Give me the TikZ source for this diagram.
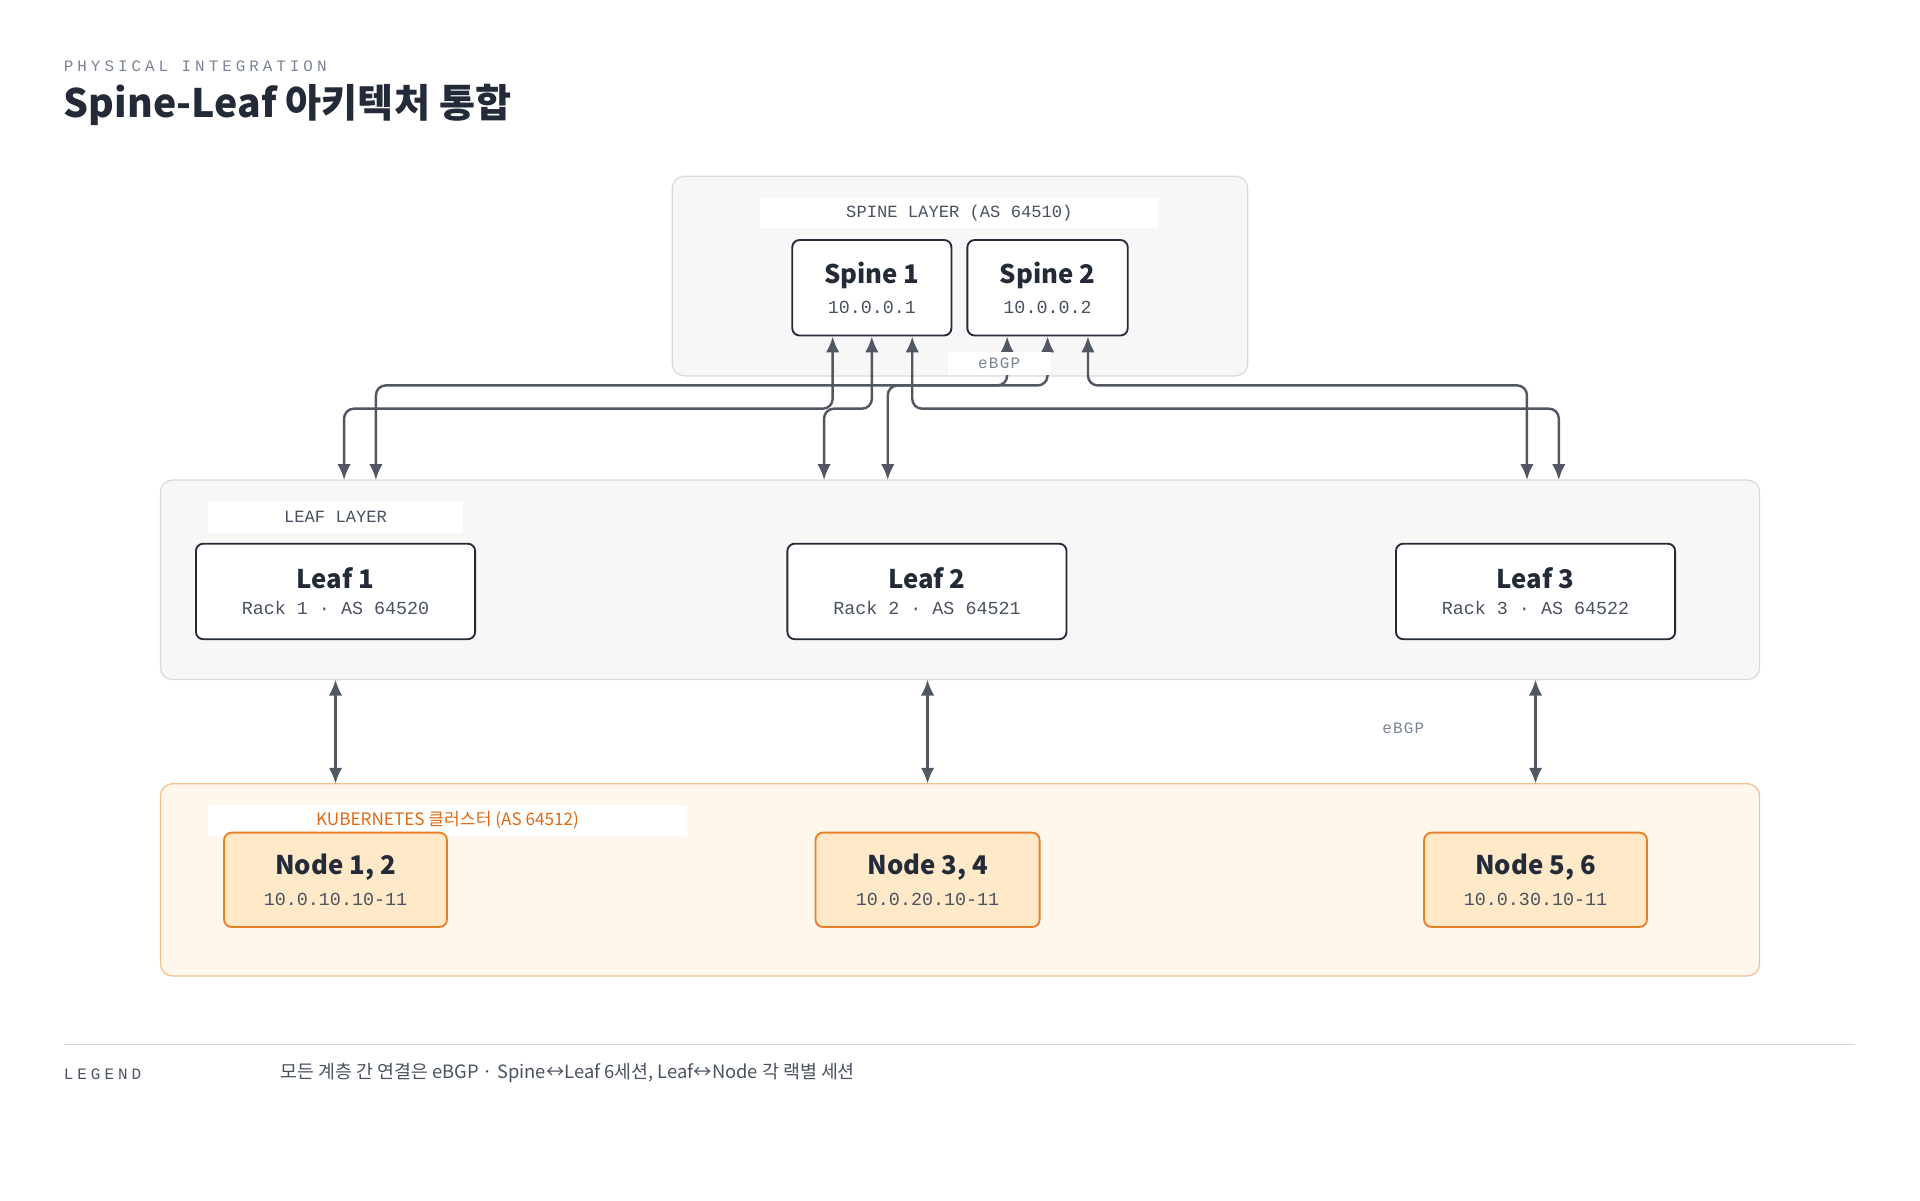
\documentclass[tikz,border=0pt]{standalone}
\usepackage{fontspec}
\setmainfont{Noto Sans CJK KR}
\newfontfamily\monofont{Liberation Mono}
\usetikzlibrary{positioning, arrows.meta}
\definecolor{ink}{HTML}{232B38}
\definecolor{wire}{HTML}{525863}
\definecolor{muted}{HTML}{7A8494}
\definecolor{subText}{HTML}{4A5260}
\definecolor{layerFill}{HTML}{F7F7F7}
\definecolor{layerLine}{HTML}{D9D9D9}
\definecolor{kubeLine}{HTML}{F2C08E}
\definecolor{kubeFill}{HTML}{FFF7EC}
\definecolor{nodeFill}{HTML}{FFE9C8}
\definecolor{nodeLine}{HTML}{E8802A}
\definecolor{kubeText}{HTML}{E06A12}
\tikzset{
  layer/.style={draw=layerLine, fill=layerFill, rounded corners=10pt, line width=1pt},
  tag/.style={fill=white, font=\monofont\fontsize{14}{16}\selectfont, text=subText},
  box/.style={draw=ink, fill=white, text=ink, rounded corners=6pt, line width=1.5pt, align=center,
    inner sep=0pt},
  kbox/.style={box, draw=nodeLine, fill=nodeFill},
  link/.style={draw=wire, line width=2pt, rounded corners=8pt, {Latex[length=13pt,width=11pt]}-{Latex[length=13pt,width=11pt]}},
}
\newcommand{\boxtext}[2]{{\fontsize{21}{25}\selectfont\bfseries #1}\\[9pt]{\monofont\fontsize{15}{17}\selectfont\color{subText} #2}}
\newcommand{\spaced}[1]{\addfontfeatures{LetterSpace=25}#1}
\newcommand{\loose}[1]{\addfontfeatures{LetterSpace=8}#1}
\begin{document}
\begin{tikzpicture}[x=1pt,y=-1pt]
  \useasboundingbox (0,0) rectangle (1568,980);
  % title
  \node[anchor=west, text=muted, font=\monofont\fontsize{13}{15}\selectfont, inner sep=0pt] (kicker) at (52,54) {\spaced{PHYSICAL INTEGRATION}};
  \node[anchor=west, text=ink, font=\fontsize{32}{38}\selectfont\bfseries, inner sep=0pt] (title) at (52,86) {Spine-Leaf 아키텍처 통합};

  % layers
  \draw[layer] (549,144) rectangle (1019,307);
  \draw[layer] (131,392) rectangle (1437,555);
  \draw[draw=kubeLine, fill=kubeFill, rounded corners=10pt, line width=1pt] (131,640) rectangle (1437,797);
  \node[tag, minimum width=325pt, minimum height=25pt] (spineTag) at (783.5,174) {SPINE LAYER (AS 64510)};
  \node[tag, minimum width=208pt, minimum height=26pt] (leafTag) at (274,422) {LEAF LAYER};
  \node[fill=white, minimum width=391pt, minimum height=26pt, text=kubeText,
    font=\fontsize{14}{16}\selectfont] (kubeTag) at (365.5,670) {KUBERNETES 클러스터 (AS 64512)};

  % spines
  \node[box, minimum width=130pt, minimum height=78pt] (s1) at (712,235) {\boxtext{Spine 1}{10.0.0.1}};
  \node[box, minimum width=131pt, minimum height=78pt] (s2) at (855.5,235) {\boxtext{Spine 2}{10.0.0.2}};

  % leaves
  \node[box, minimum width=228pt, minimum height=78pt] (l1) at (274,483) {\boxtext{Leaf 1}{Rack 1 · AS 64520}};
  \node[box, minimum width=228pt, minimum height=78pt] (l2) at (757,483) {\boxtext{Leaf 2}{Rack 2 · AS 64521}};
  \node[box, minimum width=228pt, minimum height=78pt] (l3) at (1254,483) {\boxtext{Leaf 3}{Rack 3 · AS 64522}};

  % k8s nodes
  \node[kbox, minimum width=182pt, minimum height=77pt] (n1) at (274,718.5) {\boxtext{Node 1, 2}{10.0.10.10-11}};
  \node[kbox, minimum width=183pt, minimum height=77pt] (n2) at (757.5,718.5) {\boxtext{Node 3, 4}{10.0.20.10-11}};
  \node[kbox, minimum width=182pt, minimum height=77pt] (n3) at (1254,718.5) {\boxtext{Node 5, 6}{10.0.30.10-11}};

  % drop points on the leaf layer
  \coordinate (l1a) at (281,392);
  \coordinate (l1b) at (307,392);
  \coordinate (l2a) at (673,392);
  \coordinate (l2b) at (725,392);
  \coordinate (l3a) at (1247,392);
  \coordinate (l3b) at (1273,392);

  % spine <-> leaf
  \draw[link] ([xshift=-32pt]s1.south) -- ++(0,59) -| (l1a);
  \draw[link] (s1.south) -- ++(0,59) -| (l2a);
  \draw[link] ([xshift=33pt]s1.south) -- ++(0,59) -| (l3b);
  \draw[link] ([xshift=-33pt]s2.south) -- ++(0,40) -| (l1b);
  \draw[link] (s2.south) -- ++(0,40) -| (l2b);
  \draw[link] ([xshift=33pt]s2.south) -- ++(0,40) -| (l3a);
  \node[fill=white, text=muted, font=\monofont\fontsize{13}{15}\selectfont, minimum width=84pt, minimum height=19pt] (ebgpTop) at (816,297) {\loose{eBGP}};

  % leaf <-> node
  \draw[link] (n1.north |- 0,555) coordinate (l1d) -- (n1.north |- 0,640);
  \draw[link] (n2.north |- 0,555) coordinate (l2d) -- (n2.north |- 0,640);
  \draw[link] (n3.north |- 0,555) coordinate (l3d) -- (n3.north |- 0,640);
  \node[text=muted, font=\monofont\fontsize{13}{15}\selectfont] (ebgpLow) at (1146,595) {\loose{eBGP}};

  % legend
  \draw[layerLine, line width=1pt] (52,853) -- (1515,853);
  \node[anchor=west, text=subText, font=\monofont\fontsize{13}{15}\selectfont, inner sep=0pt] (legendKey) at (52,877) {\spaced{LEGEND}};
  \node[anchor=west, text=subText, font=\fontsize{15}{18}\selectfont, inner sep=0pt] (legendText) at (229,876) {모든 계층 간 연결은 eBGP · Spine↔Leaf 6세션, Leaf↔Node 각 랙별 세션};
\end{tikzpicture}
\end{document}
